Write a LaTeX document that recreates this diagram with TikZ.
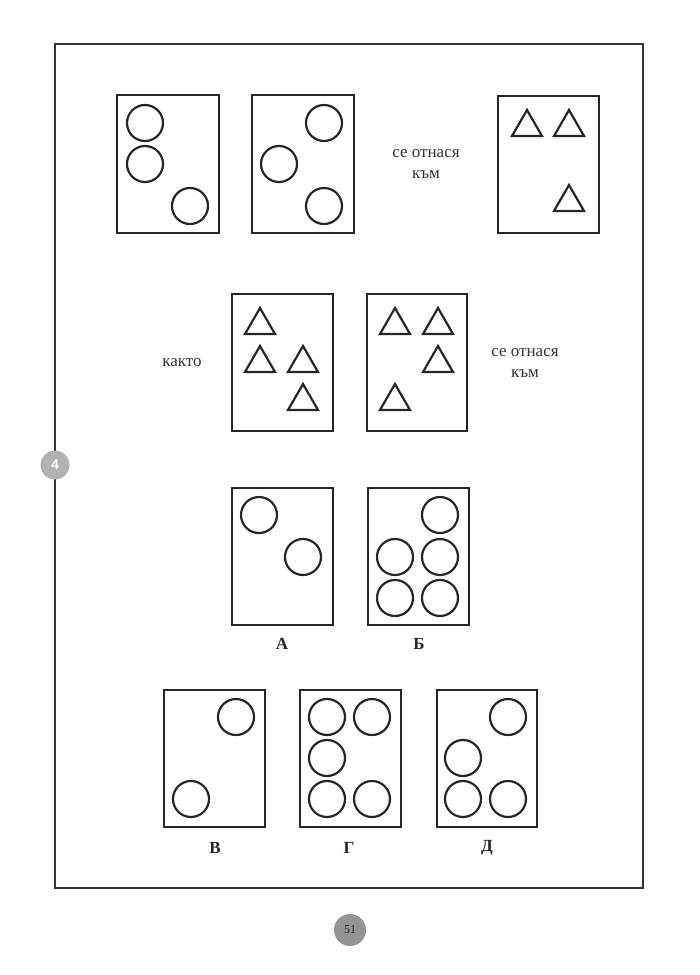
\documentclass[tikz,border=0pt]{standalone}
\usepackage{fontspec}
\setmainfont{Liberation Serif}
\newfontfamily\badgefont{Liberation Sans}
\begin{document}
\begin{tikzpicture}[x=1pt,y=-1pt,
  card/.style={draw=black!85, line width=2.4pt},
  ring/.style={draw=black!85, line width=2.2pt},
  trian/.style={draw=black!85, line width=2.2pt, line join=miter},
  tri/.pic={\draw[trian] (-15,13) -- (0,-13) -- (15,13) -- cycle;},
  word/.style={text=black!80, font=\fontsize{17}{21}\selectfont, align=center, inner sep=0pt},
  letter/.style={text=black!85, font=\bfseries\fontsize{17}{20}\selectfont, inner sep=0pt}]
\useasboundingbox (0,0) rectangle (700,975);
% outer frame
\draw[line width=1.4pt, draw=black!80] (55,44) rectangle (643,888);
% badge 4
\node[circle, fill=black!30, minimum size=29pt, inner sep=0pt, text=white, font=\badgefont\bfseries\fontsize{14}{14}\selectfont] (badge) at (55,465) {4};
% page number
\node[circle, fill=black!42, minimum size=32pt, inner sep=0pt, text=black!85, font=\fontsize{12}{12}\selectfont] (pnum) at (350,930) {51};

% ---- Row 1 ----
\node[card, minimum width=102pt, minimum height=138pt, inner sep=0pt] (b1) at (168,164) {};
\foreach \p in {(145,123),(145,164),(190,206)} \draw[ring] \p circle[radius=18];
\node[card, minimum width=102pt, minimum height=138pt, inner sep=0pt] (b2) at (303,164) {};
\foreach \p in {(324,123),(279,164),(324,206)} \draw[ring] \p circle[radius=18];
\node[word] (t1) at (426,164) {се отнася\\към};
\node[card, minimum width=101pt, minimum height=137pt, inner sep=0pt] (b3) at (548.5,164.5) {};
\pic at (527,123) {tri};
\pic at (569,123) {tri};
\pic at (569,198) {tri};

% ---- Row 2 ----
\node[word] (t2) at (182,363) {както};
\node[card, minimum width=101pt, minimum height=137pt, inner sep=0pt] (b4) at (282.5,362.5) {};
\pic at (260,321) {tri};
\pic at (260,359) {tri};
\pic at (303,359) {tri};
\pic at (303,397) {tri};
\node[card, minimum width=100pt, minimum height=137pt, inner sep=0pt] (b5) at (417,362.5) {};
\pic at (395,321) {tri};
\pic at (438,321) {tri};
\pic at (438,359) {tri};
\pic at (395,397) {tri};
\node[word] (t3) at (525,363) {се отнася\\към};

% ---- Row 3 ----
\node[card, minimum width=101pt, minimum height=137pt, inner sep=0pt] (bA) at (282.5,556.5) {};
\foreach \p in {(259,515),(303,557)} \draw[ring] \p circle[radius=18];
\node[letter] (lA) at (282,644) {А};
\node[card, minimum width=101pt, minimum height=137pt, inner sep=0pt] (bB) at (418.5,556.5) {};
\foreach \p in {(440,515),(395,557),(440,557),(395,598),(440,598)} \draw[ring] \p circle[radius=18];
\node[letter] (lB) at (419,644) {Б};

% ---- Row 4 ----
\node[card, minimum width=101pt, minimum height=137pt, inner sep=0pt] (bV) at (214.5,758.5) {};
\foreach \p in {(236,717),(191,799)} \draw[ring] \p circle[radius=18];
\node[letter] (lV) at (215,848) {В};
\node[card, minimum width=101pt, minimum height=137pt, inner sep=0pt] (bG) at (350.5,758.5) {};
\foreach \p in {(327,717),(372,717),(327,758),(327,799),(372,799)} \draw[ring] \p circle[radius=18];
\node[letter] (lG) at (349,848) {Г};
\node[card, minimum width=100pt, minimum height=137pt, inner sep=0pt] (bD) at (487,758.5) {};
\foreach \p in {(508,717),(463,758),(463,799),(508,799)} \draw[ring] \p circle[radius=18];
\node[letter] (lD) at (487,848) {Д};
\end{tikzpicture}
\end{document}
